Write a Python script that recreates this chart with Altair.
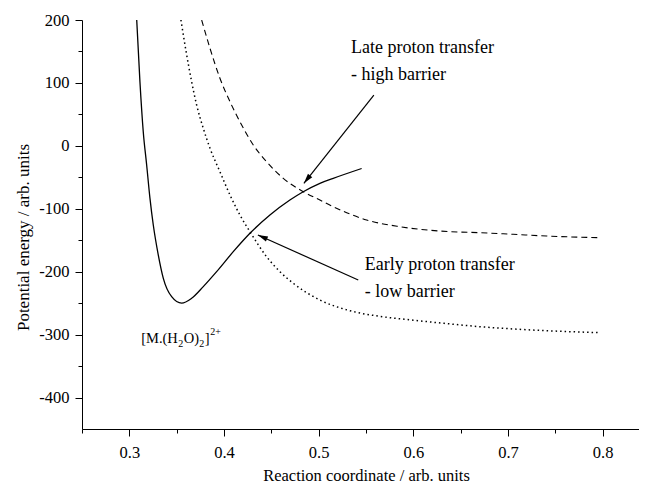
import math
import altair as alt
import pandas as pd

# ---- data ----
solid_x = [0.3078, 0.3112, 0.3147, 0.3183, 0.3218, 0.3253, 0.3306, 0.3359, 0.3447, 0.3553,
           0.3658, 0.3781, 0.3922, 0.4098, 0.4274, 0.4485, 0.4696, 0.4837, 0.5013, 0.5154, 0.5454]
solid_y = [200, 101.9, 22.5, -30.4, -83.4, -125.8, -173.5, -210.5, -239.7, -250,
           -242.3, -223.8, -200.0, -168.2, -139.0, -109.9, -86.1, -72.9, -59.5, -51.6, -36.0]

dotted_x = [0.3545, 0.3606, 0.3658, 0.3711, 0.3781, 0.3852, 0.3957, 0.4063, 0.4168, 0.4274, 0.4450,
            0.4591, 0.4731, 0.5013, 0.5330, 0.5647, 0.5998, 0.6386, 0.6703, 0.7054, 0.7407, 0.7963]
dotted_y = [200, 144.4, 102.0, 64.9, 27.9, -3.9, -41.1, -78.1, -109.9, -136.4, -176.2,
            -200.0, -218.4, -245.0, -262.0, -271.0, -277.0, -283.0, -287.4, -291.0, -293.8, -296.9]

dashed_x = [0.3764, 0.3852, 0.3957, 0.4063, 0.4168, 0.4309, 0.4450, 0.4626, 0.4837, 0.5013,
            0.5154, 0.5506, 0.5858, 0.6386, 0.6703, 0.7054, 0.7407, 0.7963]
dashed_y = [200, 155.0, 107.4, 70.2, 38.4, 1.4, -25.2, -51.6, -72.9, -86.1,
            -96.7, -117.8, -128.5, -136.4, -138.0, -140.6, -143.3, -146.0]

x_ticks = [0.25, 0.3, 0.35, 0.4, 0.45, 0.5, 0.55, 0.6, 0.65, 0.7, 0.75, 0.8]
y_ticks = [200, 150, 100, 50, 0, -50, -100, -150, -200, -250, -300, -350, -400]

labels_text = ["Late proton transfer", "- high barrier", "Early proton transfer", "- low barrier"]
labels_x = [0.5341, 0.5341, 0.5488, 0.5488]
labels_y = [155.5, 112.6, -189.3, -232.3]

# arrows: start (text side) -> tip (curve crossing)
arrow_x = [0.5583, 0.5418]
arrow_y = [80.8, -213.2]
arrow_x2 = [0.4844, 0.4358]
arrow_y2 = [-59.5, -141.7]

species_x = 0.3125
species_y = -313.3

PX_PER_X = 946.7          # pixels per x unit in the reference
W, H = 557, 409
X_DOMAIN = [0.25, 0.25 + W / PX_PER_X]
Y_DOMAIN = [-450, 200]

FONT = "Liberation Serif"

major_x = "abs(datum.value*10 - round(datum.value*10)) < 0.001"
major_y = "abs(datum.value/100 - round(datum.value/100)) < 0.001"

x_axis = alt.Axis(
    values=x_ticks, grid=False, domainColor="black", domainWidth=1, tickColor="black", tickWidth=1,
    tickSize={"condition": {"test": major_x, "value": 7}, "value": 4},
    labelExpr=major_x + " ? format(datum.value, '.1f') : ''",
    labelFont=FONT, labelFontSize=16.5, labelColor="black", labelPadding=8,
    labelFlush=False, labelOverlap=False,
    title="Reaction coordinate / arb. units", titleFont=FONT, titleFontSize=16.5,
    titleFontWeight="normal", titleColor="black", titleX=284, titleY=46,
    titleBaseline="middle", titleAlign="center",
)
y_axis = alt.Axis(
    values=y_ticks, grid=False, domainColor="black", domainWidth=1, tickColor="black", tickWidth=1,
    tickSize={"condition": {"test": major_y, "value": 7}, "value": 4},
    labelExpr=major_y + " ? ('' + datum.value) : ''",
    labelFont=FONT, labelFontSize=16.5, labelColor="black", labelPadding=6,
    labelFlush=False, labelOverlap=False,
    title="Potential energy / arb. units", titleFont=FONT, titleFontSize=17,
    titleFontWeight="normal", titleColor="black", titleX=-59, titleY=217,
    titleBaseline="middle", titleAlign="center", titleAngle=270,
)

xs = alt.Scale(domain=X_DOMAIN, nice=False, zero=False)
ys = alt.Scale(domain=Y_DOMAIN, nice=False, zero=False)


def xy(xf="x", yf="y"):
    return dict(x=alt.X(f"{xf}:Q", scale=xs, axis=x_axis), y=alt.Y(f"{yf}:Q", scale=ys, axis=y_axis))


solid = alt.Chart(pd.DataFrame({"x": solid_x, "y": solid_y})).mark_line(
    color="black", strokeWidth=1.3, interpolate="monotone", clip=True).encode(**xy())
dotted = alt.Chart(pd.DataFrame({"x": dotted_x, "y": dotted_y})).mark_line(
    color="black", strokeWidth=1.5, strokeDash=[1.5, 3], interpolate="monotone", clip=True).encode(**xy())
dashed = alt.Chart(pd.DataFrame({"x": dashed_x, "y": dashed_y})).mark_line(
    color="black", strokeWidth=1.1, strokeDash=[6, 4], interpolate="monotone", clip=True).encode(**xy())

arrows_df = pd.DataFrame({"x": arrow_x, "y": arrow_y, "x2": arrow_x2, "y2": arrow_y2})
# arrowhead angle from the pixel direction of each arrow
px_per_y = H / (Y_DOMAIN[1] - Y_DOMAIN[0])
angles = []
for a, b, c, d in zip(arrow_x, arrow_y, arrow_x2, arrow_y2):
    dx = (c - a) * PX_PER_X
    dy = -(d - b) * px_per_y
    angles.append(math.degrees(math.atan2(dx, -dy)) % 360)
arrows_df["angle"] = angles

arrow_lines = alt.Chart(arrows_df).mark_rule(color="black", strokeWidth=1.2).encode(
    x=alt.X("x:Q", scale=xs, axis=x_axis), y=alt.Y("y:Q", scale=ys, axis=y_axis),
    x2="x2:Q", y2="y2:Q")
arrow_heads = alt.Chart(arrows_df).mark_point(
    shape="M0,0L0.55,2L-0.55,2Z", filled=True, color="black", opacity=1, size=100).encode(
    x=alt.X("x2:Q", scale=xs, axis=x_axis), y=alt.Y("y2:Q", scale=ys, axis=y_axis),
    angle=alt.Angle("angle:Q", scale=None))

labels = alt.Chart(pd.DataFrame({"x": labels_x, "y": labels_y, "t": labels_text})).mark_text(
    align="left", baseline="middle", font=FONT, fontSize=18, color="black").encode(
    **xy(), text="t:N")

# [M.(H2O)2]2+ built from pieces
species_parts = [("[M.(H", 0, 0, 14.5), ("2", 37, 4, 10), ("O)", 42.5, 0, 14.5),
                 ("2", 58, 4, 10), ("]", 63.5, 0, 14.5), ("2+", 69, -8, 10)]
sp_df = pd.DataFrame({"x": [species_x], "y": [species_y]})
species_layers = []
for txt, ddx, ddy, fs in species_parts:
    species_layers.append(
        alt.Chart(sp_df).mark_text(align="left", baseline="alphabetic", font=FONT, fontSize=fs,
                                   color="black", dx=ddx, dy=ddy, text=txt).encode(**xy()))

chart = alt.layer(dotted, dashed, solid, arrow_lines, arrow_heads, labels, *species_layers).properties(
    width=W, height=H,
    padding={"left": 74, "top": 12, "right": 0, "bottom": 54},
    autosize=alt.AutoSizeParams(type="none"),
    background="white",
).configure_view(stroke="transparent")

chart.save("out.html", embed_options={"renderer": "svg", "actions": False})
